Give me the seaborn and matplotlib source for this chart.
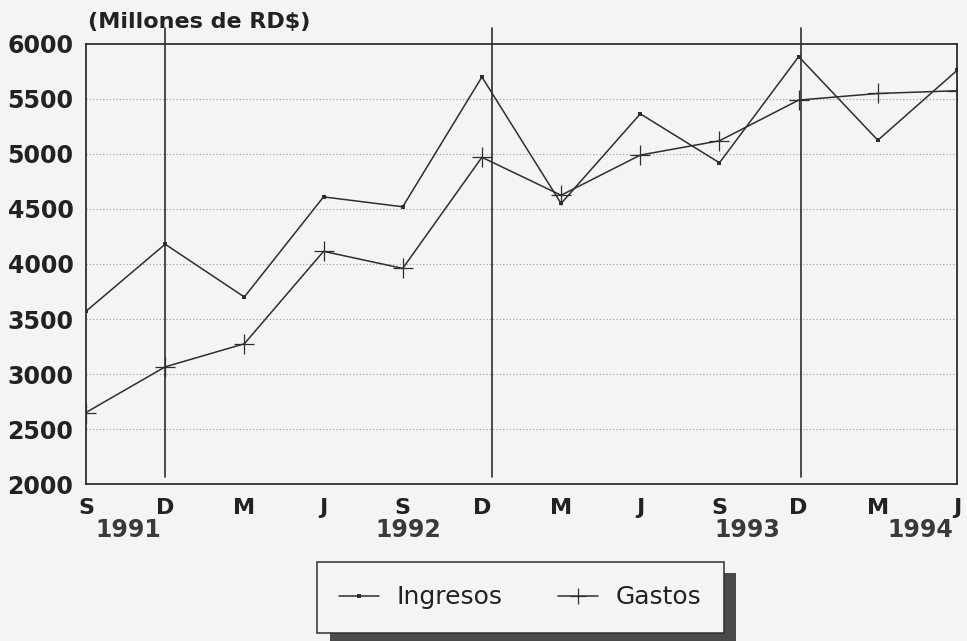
import numpy as np
import pandas as pd
import matplotlib.pyplot as plt
import matplotlib.transforms as mtransforms
from matplotlib.patches import Rectangle
import seaborn as sns

# --- datos (millones de RD$) ---
meses = ['S', 'D', 'M', 'J', 'S', 'D', 'M', 'J', 'S', 'D', 'M', 'J']
anios = ['1991', '1992', '1993', '1994']
ingresos = [3570, 4180, 3700, 4610, 4520, 5700, 4550, 5365, 4920, 5885, 5125, 5760]
gastos = [2650, 3065, 3275, 4115, 3960, 4970, 4625, 4990, 5120, 5490, 5550, 5575]

# posiciones de los rotulos de año y de las lineas verticales (layout)
anio_x = [0.53, 4.07, 8.35, 10.53]
separadores = [1.0, 5.13, 9.03]

df = pd.DataFrame({'t': np.arange(len(meses)), 'Ingresos': ingresos, 'Gastos': gastos})

sns.set_theme(style='white')
plt.rcParams['font.family'] = ['DejaVu Sans']
bg = '#f4f4f2'
ink = '#2e2e2e'

fig = plt.figure(figsize=(9.67, 6.41), dpi=100, facecolor=bg)
ax = fig.add_axes([0.0889, 0.2449, 0.9008, 0.6865], facecolor=bg)

sns.lineplot(data=df, x='t', y='Ingresos', ax=ax, color=ink, lw=1.1,
             marker='s', markersize=3.5, markeredgewidth=0, markerfacecolor=ink)
sns.lineplot(data=df, x='t', y='Gastos', ax=ax, color=ink, lw=1.1,
             marker='+', markersize=15, markeredgewidth=0.9, markeredgecolor=ink)

ax.set_xlim(0, 11)
ax.set_ylim(2000, 6000)
ax.set_yticks(np.arange(2000, 6001, 500))
ax.set_yticklabels([str(v) for v in range(2000, 6001, 500)], fontsize=17,
                   fontweight='bold', color='#222')
ax.set_xticks(df['t'])
ax.set_xticklabels(meses, fontsize=16, fontweight='bold', color='#222')
ax.set_xlabel('')
ax.set_ylabel('')
ax.tick_params(axis='both', direction='in', length=9, width=1.1, color=ink)
ax.tick_params(axis='y', pad=9)
ax.tick_params(axis='x', pad=10)

for v in range(2500, 6000, 500):
    ax.axhline(v, color='#9a9a9a', lw=0.8, ls=(0, (1, 2)), zorder=0)

for s in ax.spines.values():
    s.set_color(ink)
    s.set_linewidth(1.3)

for x in separadores:
    ax.axvline(x, ymin=0.016, ymax=1.037, color=ink, lw=1.2, clip_on=False, zorder=1)

trans = mtransforms.blended_transform_factory(ax.transData, ax.transAxes)
for x, a in zip(anio_x, anios):
    ax.text(x, -0.105, a, transform=trans, ha='center', va='center',
            fontsize=17, fontweight='bold', color='#3a3a3a')

fig.text(0.091, 0.965, '(Millones de RD$)', ha='left', va='center',
         fontsize=16, fontweight='bold', color='#222')

# leyenda con caja y sombra
fig.patches.append(Rectangle((0.3413, -0.02), 0.4199, 0.126, transform=fig.transFigure,
                             facecolor='#4a4a4a', edgecolor='none', zorder=1))
fig.patches.append(Rectangle((0.3278, 0.0125), 0.4209, 0.1108, transform=fig.transFigure,
                             facecolor=bg, edgecolor=ink, lw=1.1, zorder=2))
handles = ax.get_lines()[:2]
leg = fig.legend(handles, ['Ingresos', 'Gastos'], loc='center',
                 bbox_to_anchor=(0.538, 0.068), ncol=2, frameon=False, fontsize=18,
                 handlelength=1.6, handletextpad=0.7, columnspacing=2.2,
                 markerscale=0.8, labelcolor='#222')
leg.set_zorder(5)

fig.savefig('out.png', dpi=100, facecolor=bg)
